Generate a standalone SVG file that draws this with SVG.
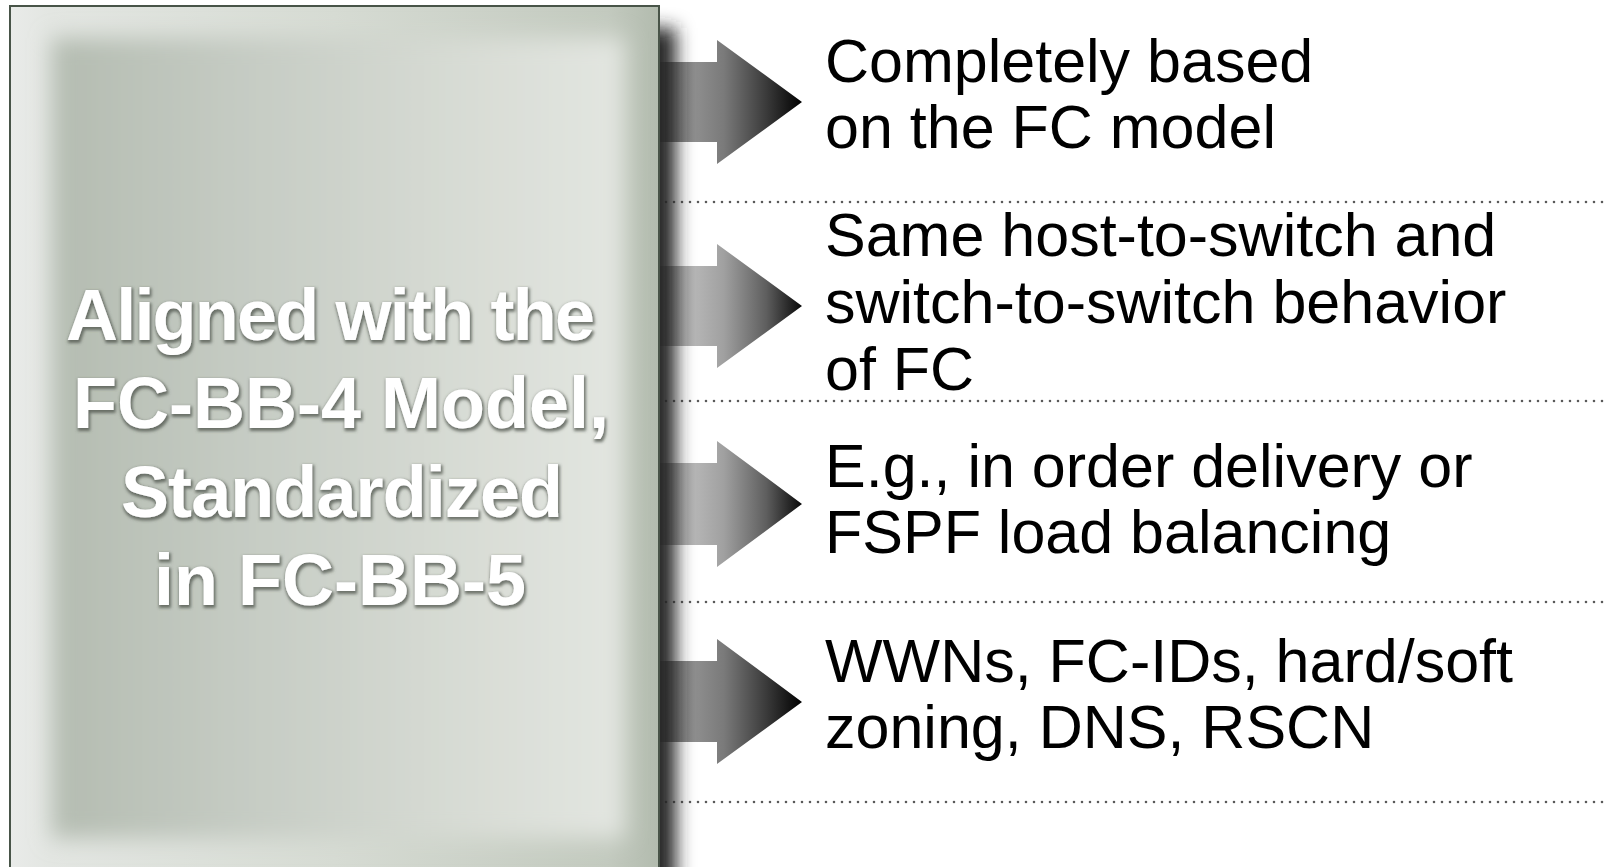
<svg xmlns="http://www.w3.org/2000/svg" width="1604" height="867" viewBox="0 0 1604 867">
<style>
.rt{font-family:"Liberation Sans",Arial,sans-serif;font-size:61px;fill:#000}
.lt{font-family:"Liberation Sans",Arial,sans-serif;font-size:72px;font-weight:bold;fill:#fff}
.dot{stroke:#5a5a5a;stroke-width:2.6;stroke-linecap:round;stroke-dasharray:0 8;fill:none}
</style>
<defs>
<linearGradient id="baseG" x1="0" y1="0" x2="1" y2="0">
<stop offset="0" stop-color="#e9ebe9"/>
<stop offset="0.06" stop-color="#e3e6e2"/>
<stop offset="0.5" stop-color="#d6dbd3"/>
<stop offset="0.92" stop-color="#c3cabf"/>
<stop offset="1" stop-color="#b2bbae"/>
</linearGradient>
<linearGradient id="innerG" x1="0" y1="0" x2="1" y2="0">
<stop offset="0" stop-color="#b4bcb1"/>
<stop offset="0.35" stop-color="#c6ccc4"/>
<stop offset="0.75" stop-color="#d9ddd6"/>
<stop offset="1" stop-color="#e3e6e1"/>
</linearGradient>
<linearGradient id="arrDark" gradientUnits="userSpaceOnUse" x1="660" y1="0" x2="802" y2="0">
<stop offset="0" stop-color="#6e6e6e"/>
<stop offset="0.25" stop-color="#8e8e8e"/>
<stop offset="0.45" stop-color="#7a7a7a"/>
<stop offset="0.75" stop-color="#3a3a3a"/>
<stop offset="1" stop-color="#000"/>
</linearGradient>
<linearGradient id="arrLight" gradientUnits="userSpaceOnUse" x1="660" y1="0" x2="802" y2="0">
<stop offset="0" stop-color="#9a9a9a"/>
<stop offset="0.25" stop-color="#b5b5b5"/>
<stop offset="0.45" stop-color="#a0a0a0"/>
<stop offset="0.75" stop-color="#5e5e5e"/>
<stop offset="1" stop-color="#080808"/>
</linearGradient>
<filter id="shadowBlur" filterUnits="userSpaceOnUse" x="560" y="-40" width="200" height="960">
<feGaussianBlur stdDeviation="9"/>
</filter>
<filter id="innerBlur" filterUnits="userSpaceOnUse" x="0" y="0" width="700" height="867">
<feGaussianBlur stdDeviation="11"/>
</filter>
<filter id="glow" filterUnits="userSpaceOnUse" x="30" y="260" width="620" height="380">
<feMorphology in="SourceAlpha" operator="dilate" radius="1.2" result="d"/>
<feGaussianBlur in="d" stdDeviation="1.6" result="b"/>
<feFlood flood-color="#4d534b" flood-opacity="0.75"/>
<feComposite in2="b" operator="in" result="s"/>
<feOffset in="s" dx="1" dy="1.5" result="o"/>
<feMerge><feMergeNode in="o"/><feMergeNode in="SourceGraphic"/></feMerge>
</filter>
<clipPath id="boxClip"><rect x="10" y="6" width="649" height="862"/></clipPath>
</defs>
<rect width="1604" height="867" fill="#fff"/>

<g id="connectors">
<line class="dot" x1="666" y1="202" x2="1604" y2="202"/>
<line class="dot" x1="666" y1="401" x2="1604" y2="401"/>
<line class="dot" x1="666" y1="602" x2="1604" y2="602"/>
<line class="dot" x1="666" y1="802" x2="1604" y2="802"/>
<polygon id="arrow1" fill="url(#arrDark)" points="655,62 717,62 717,40 802,102 717,164 717,142 655,142"/>
<polygon id="arrow2" fill="url(#arrLight)" points="655,266 717,266 717,244 802,306 717,368 717,346 655,346"/>
<polygon id="arrow3" fill="url(#arrLight)" points="655,463 717,463 717,441 802,504 717,567 717,545 655,545"/>
<polygon id="arrow4" fill="url(#arrDark)" points="655,661 717,661 717,639 802,702 717,764 717,742 655,742"/>
</g>

<g id="box-shadow">
<rect x="590" y="28" width="86" height="900" fill="#262626" filter="url(#shadowBlur)"/>
</g>

<g id="main-box">
<rect x="10" y="6" width="649" height="862" fill="url(#baseG)"/>
<g clip-path="url(#boxClip)">
<rect x="52" y="38" width="572" height="800" fill="url(#innerG)" filter="url(#innerBlur)"/>
</g>
<rect x="10" y="6" width="649" height="862" fill="none" stroke="#485448" stroke-width="2"/>
<g filter="url(#glow)">
<text class="lt" x="66" y="340" textLength="529" lengthAdjust="spacing">Aligned with the</text>
<text class="lt" x="73" y="428">FC-BB-4 Model,</text>
<text class="lt" x="121" y="517" textLength="442" lengthAdjust="spacing">Standardized</text>
<text class="lt" x="154" y="605">in FC-BB-5</text>
</g>
</g>

<g id="item1">
<text class="rt" x="825" y="82">Completely based</text>
<text class="rt" x="825" y="148">on the FC model</text>
</g>
<g id="item2">
<text class="rt" x="825" y="256">Same host-to-switch and</text>
<text class="rt" x="825" y="323">switch-to-switch behavior</text>
<text class="rt" x="825" y="390">of FC</text>
</g>
<g id="item3">
<text class="rt" x="825" y="487">E.g., in order delivery or</text>
<text class="rt" x="825" y="553">FSPF load balancing</text>
</g>
<g id="item4">
<text class="rt" x="825" y="682">WWNs, FC-IDs, hard/soft</text>
<text class="rt" x="825" y="748">zoning, DNS, RSCN</text>
</g>
</svg>
